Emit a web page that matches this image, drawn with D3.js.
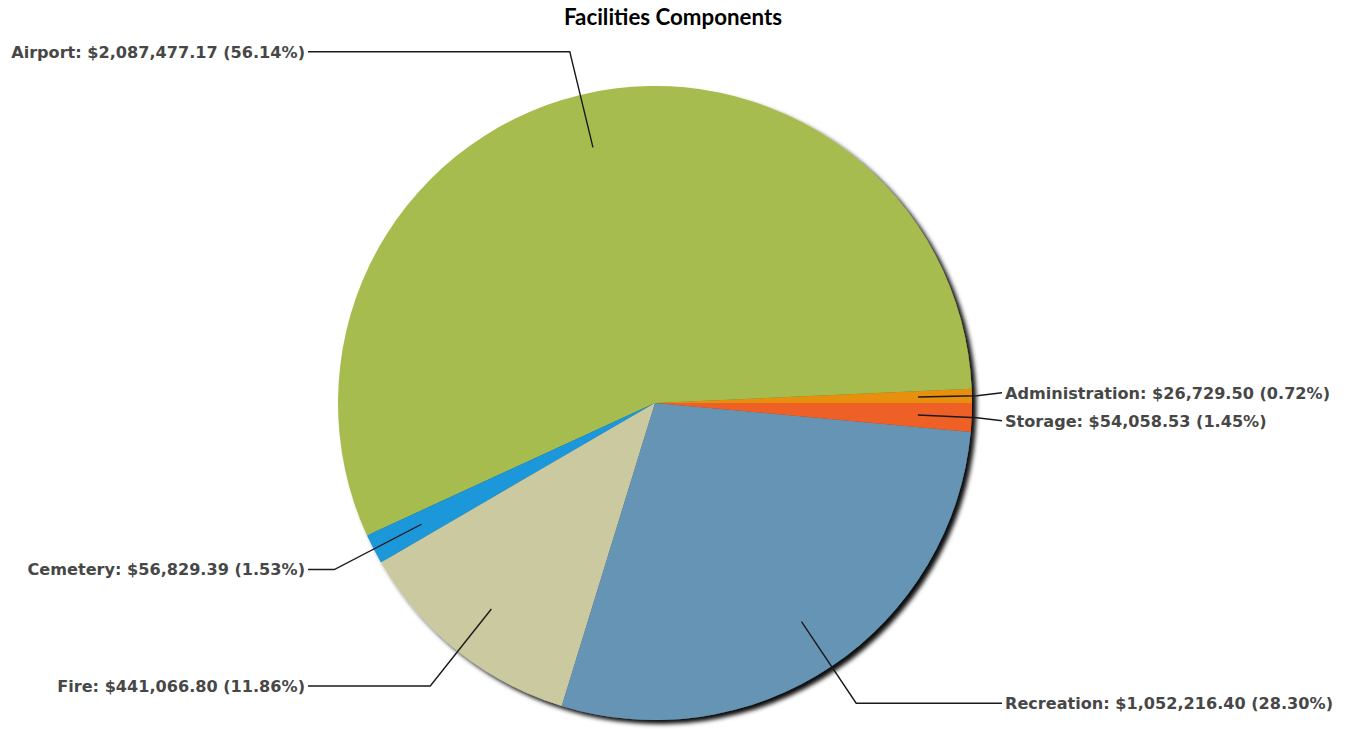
<!DOCTYPE html>
<html>
<head>
<meta charset="utf-8">
<script src="https://cdn.jsdelivr.net/npm/d3@7"></script>
<style>
  html, body { margin: 0; padding: 0; background: #fff; }
  svg { display: block; }
</style>
</head>
<body>
<svg id="chart" width="1347" height="729"></svg>
<script>
// Facility component totals (dollars)
const categories = ["Administration", "Airport", "Cemetery", "Fire", "Recreation", "Storage"];
const amounts = [26729.50, 2087477.17, 56829.39, 441066.80, 1052216.40, 54058.53];
const sliceColors = ["#e8900c", "#a6bc4f", "#1f97d9", "#cbc99f", "#6694b4", "#ef6128"];
const chartTitle = "Facilities Components";

const W = 1347, H = 729;
const cx = 655, cy = 403, r = 317;

const svg = d3.select("#chart");

// soft drop shadow under the pie
const defs = svg.append("defs");
const f = defs.append("filter").attr("id", "pieShadow")
  .attr("x", "-10%").attr("y", "-10%").attr("width", "120%").attr("height", "120%");
f.append("feDropShadow").attr("dx", 4.5).attr("dy", 4).attr("stdDeviation", 2.3)
  .attr("flood-color", "#000").attr("flood-opacity", 0.95);

svg.append("text")
  .attr("x", 673).attr("y", 25)
  .attr("text-anchor", "middle")
  .style("font-family", "Lato, 'Open Sans', sans-serif")
  .style("font-weight", "bold")
  .style("font-size", "22.3px")
  .attr("fill", "#000")
  .text(chartTitle);

const data = categories.map((c, i) => ({ name: c, value: amounts[i], color: sliceColors[i] }));
const total = d3.sum(amounts);

// slices run counter-clockwise starting from 3 o'clock
const pie = d3.pie().sort(null).value(d => d.value)
  .startAngle(Math.PI / 2).endAngle(Math.PI / 2 - 2 * Math.PI);
const arcs = pie(data);
const arc = d3.arc().innerRadius(0).outerRadius(r);

const g = svg.append("g").attr("transform", `translate(${cx},${cy})`);
g.append("g").attr("filter", "url(#pieShadow)")
  .selectAll("path").data(arcs).join("path")
  .attr("d", arc)
  .attr("fill", d => d.data.color);

// label layout
const money = d3.format(",.2f");
const pct = d3.format(".2f");
const labels = arcs.map(a => {
  const m = (a.startAngle + a.endAngle) / 2;
  const sx = Math.sin(m), sy = -Math.cos(m);
  const inner = [sx * r * 0.83, sy * r * 0.83];
  const eR = Math.min(r * 1.14, (r + 5) / Math.max(Math.abs(sx), 1e-6));
  const elbow = [sx * eR, sy * eR];
  const side = sx >= 0 ? 1 : -1;
  return { a, inner, elbow, side, y: elbow[1],
    text: `${a.data.name}: $${money(a.data.value)} (${pct(a.data.value / total * 100)}%)` };
});

// keep labels on the same side at least one line apart
const gap = 28;
[1, -1].forEach(side => {
  const list = labels.filter(l => l.side === side).sort((p, q) => p.y - q.y);
  for (let it = 0; it < 50; it++) {
    let moved = false;
    for (let i = 1; i < list.length; i++) {
      const d = list[i].y - list[i - 1].y;
      if (d < gap) {
        const push = (gap - d) / 2;
        list[i - 1].y -= push; list[i].y += push; moved = true;
      }
    }
    if (!moved) break;
  }
});

const lineEnd = 347, textOff = 350;
const lg = svg.append("g").attr("transform", `translate(${cx},${cy})`);
lg.selectAll("polyline").data(labels).join("polyline")
  .attr("points", d => [d.inner, d.elbow, [d.side * lineEnd, d.y]].map(p => p.join(",")).join(" "))
  .attr("fill", "none")
  .attr("stroke", "#1a1a1a")
  .attr("stroke-width", 1.4);

lg.selectAll("text").data(labels).join("text")
  .attr("x", d => d.side * textOff)
  .attr("y", d => d.y)
  .attr("dy", "0.36em")
  .attr("text-anchor", d => d.side > 0 ? "start" : "end")
  .style("font-family", "'DejaVu Sans', Verdana, sans-serif")
  .style("font-weight", "bold")
  .style("font-size", "16.1px")
  .attr("fill", "#474747")
  .text(d => d.text);
</script>
</body>
</html>
